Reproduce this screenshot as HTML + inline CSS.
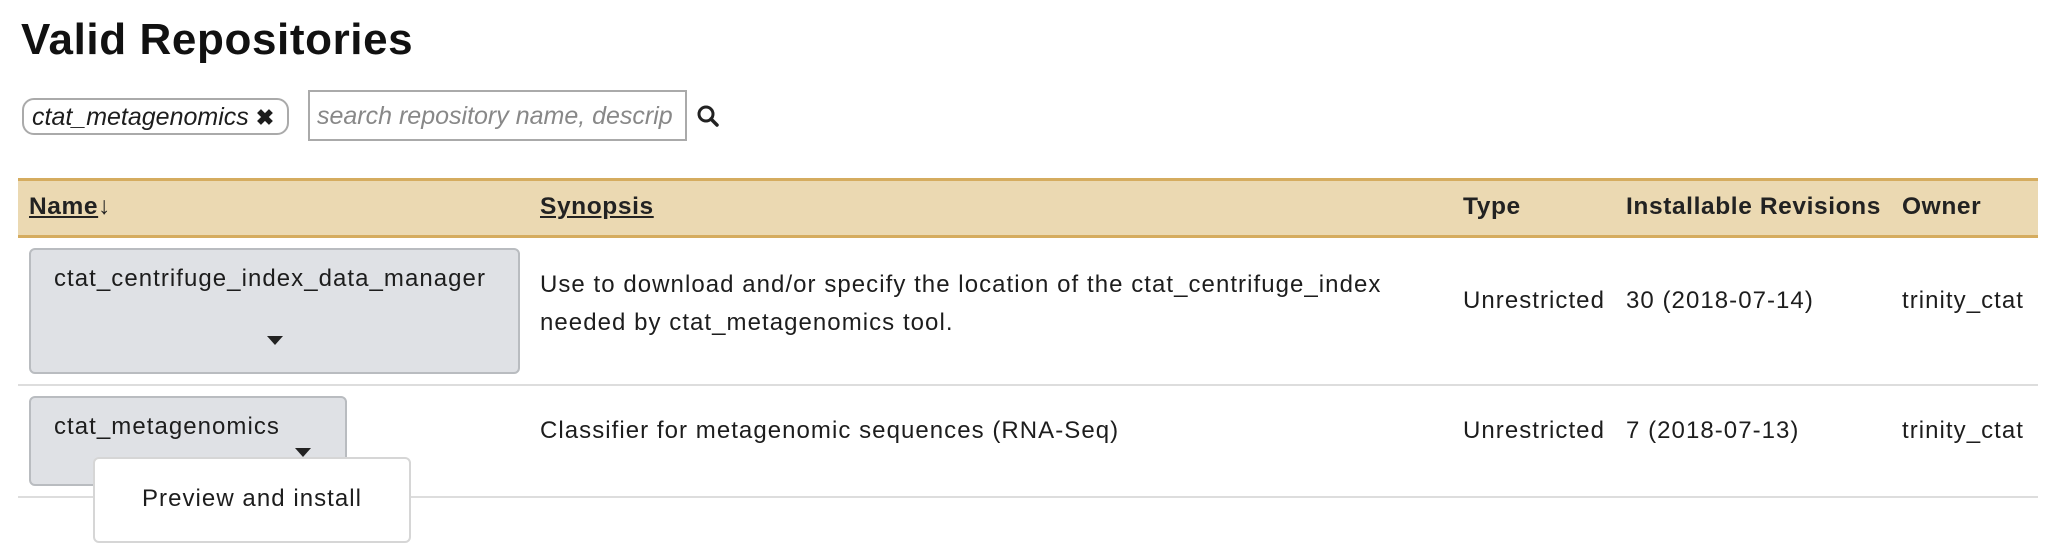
<!DOCTYPE html>
<html><head><meta charset="utf-8"><style>
*{margin:0;padding:0;box-sizing:border-box}
body{width:2050px;height:554px;background:#fff;font-family:"Liberation Sans",sans-serif;color:#1d1d1d;position:relative;overflow:hidden}
.a{position:absolute;white-space:nowrap}
h1{position:absolute;left:21px;top:15px;font-size:44px;font-weight:bold;letter-spacing:0.6px;color:#111}
.t{font-size:24px;letter-spacing:1.05px}
.hdr{font-size:24.5px;font-weight:bold;color:#222;letter-spacing:0.6px}
.btn{position:absolute;background:#dfe1e5;border:2px solid #b9bcc0;border-radius:6px}
.caret{position:absolute;width:0;height:0;border-left:8px solid transparent;border-right:8px solid transparent;border-top:9px solid #222}
</style></head><body>
<h1>Valid Repositories</h1>

<div class="a" style="left:22px;top:98px;width:267px;height:37px;border:2px solid #aaa;border-radius:12px;font-style:italic;font-size:25px;padding:3px 0 0 8px">ctat_metagenomics <span style="font-style:normal;font-weight:bold;font-size:22px">✖</span></div>

<div class="a" style="left:308px;top:90px;width:379px;height:51px;border:2px solid #aaa;font-style:italic;font-size:25px;color:#888;padding:10px 0 0 7px;overflow:hidden">search repository name, descrip</div>
<svg class="a" style="left:696px;top:104px" width="24" height="24" viewBox="0 0 24 24"><circle cx="10" cy="10" r="7" fill="none" stroke="#222" stroke-width="3"/><line x1="15" y1="15" x2="21" y2="21" stroke="#222" stroke-width="3.5" stroke-linecap="round"/></svg>

<div class="a" style="left:18px;top:178px;width:2020px;height:60px;background:#ebd9b2;border-top:3px solid #d5ac5f;border-bottom:3px solid #d5ac5f"></div>
<div class="a hdr" style="left:29px;top:193px"><u>Name</u>↓</div>
<div class="a hdr" style="left:540px;top:193px"><u>Synopsis</u></div>
<div class="a hdr" style="left:1463px;top:193px">Type</div>
<div class="a hdr" style="left:1626px;top:193px">Installable Revisions</div>
<div class="a hdr" style="left:1902px;top:193px">Owner</div>

<div class="btn" style="left:29px;top:248px;width:491px;height:126px"></div>
<div class="a t" style="left:54px;top:265px">ctat_centrifuge_index_data_manager</div>
<div class="caret" style="left:267px;top:336px"></div>
<div class="a t" style="left:540px;top:266px;line-height:38px">Use to download and/or specify the location of the ctat_centrifuge_index<br>needed by ctat_metagenomics tool.</div>
<div class="a t" style="left:1463px;top:287px">Unrestricted</div>
<div class="a t" style="left:1626px;top:287px">30 (2018-07-14)</div>
<div class="a t" style="left:1902px;top:287px">trinity_ctat</div>
<div class="a" style="left:18px;top:384px;width:2020px;height:2px;background:#ddd"></div>

<div class="btn" style="left:29px;top:396px;width:318px;height:90px"></div>
<div class="a t" style="left:54px;top:413px">ctat_metagenomics</div>
<div class="caret" style="left:295px;top:448px"></div>
<div class="a t" style="left:540px;top:417px">Classifier for metagenomic sequences (RNA-Seq)</div>
<div class="a t" style="left:1463px;top:417px">Unrestricted</div>
<div class="a t" style="left:1626px;top:417px">7 (2018-07-13)</div>
<div class="a t" style="left:1902px;top:417px">trinity_ctat</div>
<div class="a" style="left:18px;top:496px;width:2020px;height:2px;background:#ddd"></div>

<div class="a" style="left:93px;top:457px;width:318px;height:86px;background:#fff;border:2px solid #d6d6d6;border-radius:6px"></div>
<div class="a t" style="left:142px;top:485px">Preview and install</div>
</body></html>
